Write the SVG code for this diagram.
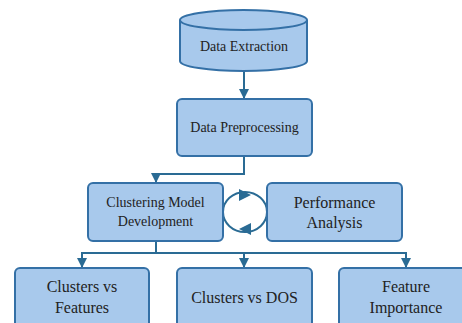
<svg xmlns="http://www.w3.org/2000/svg" width="462" height="323" viewBox="0 0 462 323">
<defs>
<style>
.box{fill:#a8c9ec;stroke:#3470a6;stroke-width:2}
.ln{fill:none;stroke:#2a6b94;stroke-width:2}
.t{fill:#222;text-anchor:middle;font-family:'Liberation Serif','Times New Roman',serif}
.s13{font-size:14px}
.s15{font-size:16px}
</style>
<marker id="ah" viewBox="0 0 10 10" refX="9" refY="5" markerWidth="5" markerHeight="5" orient="auto" markerUnits="strokeWidth">
<path d="M0,0 L10,5 L0,10 z" fill="#2a6b94"/>
</marker>
</defs>
<rect width="462" height="323" fill="#ffffff"/>
<g id="connectors">
<line class="ln" x1="244" y1="71" x2="244" y2="98" marker-end="url(#ah)"/>
<polyline class="ln" points="244,156 244,174 156,174 156,182" marker-end="url(#ah)"/>
<line class="ln" x1="156" y1="241" x2="156" y2="253"/>
<polyline class="ln" points="82,253 406,253 406,267" marker-end="url(#ah)"/>
<line class="ln" x1="82" y1="252" x2="82" y2="267" marker-end="url(#ah)"/>
<line class="ln" x1="244" y1="253" x2="244" y2="267" marker-end="url(#ah)"/>
<ellipse class="ln" cx="245" cy="212" rx="22" ry="20"/>
<path d="M239,189 L251,195 L239,201 z" fill="#2a6b94"/>
<path d="M251,223 L239,229 L251,235 z" fill="#2a6b94"/>
</g>
<g id="data-extraction">
<path class="box" d="M180,20 L180,61 A63.5,10 0 0 0 307,61 L307,20"/>
<ellipse class="box" cx="243.5" cy="20" rx="63.5" ry="10"/>
<text class="t s13" x="244" y="51">Data Extraction</text>
</g>
<g id="data-preprocessing">
<rect class="box" x="177" y="99" width="135" height="57" rx="5"/>
<text class="t s13" x="244.5" y="132">Data Preprocessing</text>
</g>
<g id="clustering-model">
<rect class="box" x="88" y="183" width="135" height="58" rx="5"/>
<text class="t s13" x="155.5" y="207">Clustering Model</text>
<text class="t s13" x="155.5" y="226">Development</text>
</g>
<g id="performance-analysis">
<rect class="box" x="267" y="183" width="135" height="58" rx="5"/>
<text class="t s15" x="334.5" y="208">Performance</text>
<text class="t s15" x="334.5" y="228">Analysis</text>
</g>
<g id="clusters-features">
<rect class="box" x="15" y="268" width="134" height="70" rx="5"/>
<text class="t s15" x="82" y="292">Clusters vs</text>
<text class="t s15" x="82" y="313">Features</text>
</g>
<g id="clusters-dos">
<rect class="box" x="177" y="268" width="135" height="70" rx="5"/>
<text class="t s15" x="244.5" y="303">Clusters vs DOS</text>
</g>
<g id="feature-importance">
<rect class="box" x="339" y="268" width="134" height="70" rx="5"/>
<text class="t s15" x="406" y="292">Feature</text>
<text class="t s15" x="406" y="313">Importance</text>
</g>
</svg>
